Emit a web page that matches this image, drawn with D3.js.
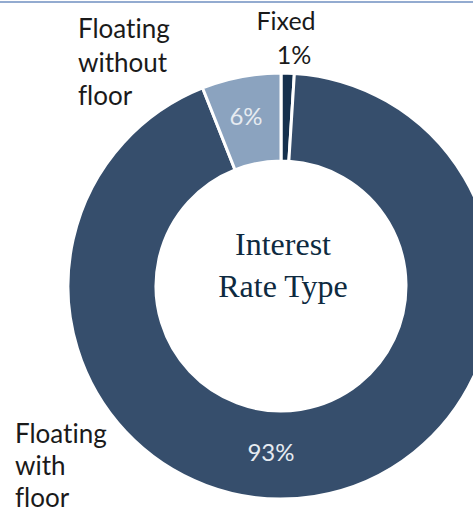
<!DOCTYPE html>
<html><head><meta charset="utf-8">
<script src="https://cdn.jsdelivr.net/npm/d3@7"></script>
<style>html,body{margin:0;padding:0;background:#fff;overflow:hidden} text{font-variant-ligatures:none;font-feature-settings:"liga" 0,"clig" 0}</style>
</head><body>
<svg id="c" width="473" height="513"></svg>
<script>
const categories = ["Fixed", "Floating with floor", "Floating without floor"];
const values = [1, 93, 6];
const labelLines = [["Fixed"], ["Floating", "with", "floor"], ["Floating", "without", "floor"]];
const colors = ["#15304d", "#364e6c", "#8ba3bf"];
const centerTitle = ["Interest", "Rate Type"];

const svg = d3.select("#c");
svg.append("line").attr("x1",0).attr("x2",473).attr("y1",2).attr("y2",2)
  .attr("stroke","#6f8fc0").attr("stroke-width",1.5);

const cx = 281, cy = 286, rO = 213, rI = 125;
const g = svg.append("g").attr("transform",`translate(${cx},${cy})`);
const pie = d3.pie().sort(null).value(d=>d)(values);
const arc = d3.arc().innerRadius(rI).outerRadius(rO);
g.selectAll("path").data(pie).join("path")
  .attr("d",arc).attr("fill",(d,i)=>colors[i])
  .attr("stroke","#fff").attr("stroke-width",3);

const fam = "Lato, 'Open Sans', sans-serif";
// percentage labels inside slices
const pct = [null, {x:271, y:461}, {x:246, y:125}];
pct.forEach((p,i)=>{
  if(!p) return;
  svg.append("text").attr("x",p.x).attr("y",p.y).attr("text-anchor","middle")
    .attr("font-family",fam).attr("font-size",24).attr("fill","#e6ebf1")
    .text(values[i]+"%");
});
// Fixed label
svg.append("text").attr("x",286).attr("y",30).attr("text-anchor","middle")
  .attr("font-family",fam).attr("font-size",25).attr("fill","#1a1a1a").text(labelLines[0][0]);
svg.append("text").attr("x",294).attr("y",64).attr("text-anchor","middle")
  .attr("font-family",fam).attr("font-size",25).attr("fill","#1a1a1a").text(values[0]+"%");
// Floating without floor
labelLines[2].forEach((t,k)=>{
  svg.append("text").attr("x",78).attr("y",38+k*33.5)
    .attr("font-family",fam).attr("font-size",26).attr("fill","#1a1a1a").text(t);
});
// Floating with floor
labelLines[1].forEach((t,k)=>{
  svg.append("text").attr("x",15).attr("y",443+k*32)
    .attr("font-family",fam).attr("font-size",26).attr("fill","#1a1a1a").text(t);
});
// center title
centerTitle.forEach((t,k)=>{
  svg.append("text").attr("x",283).attr("y",255+k*42).attr("text-anchor","middle")
    .attr("font-family","'Liberation Serif', serif").attr("font-size",32).attr("fill","#0e2a40").text(t);
});
</script>
</body></html>
